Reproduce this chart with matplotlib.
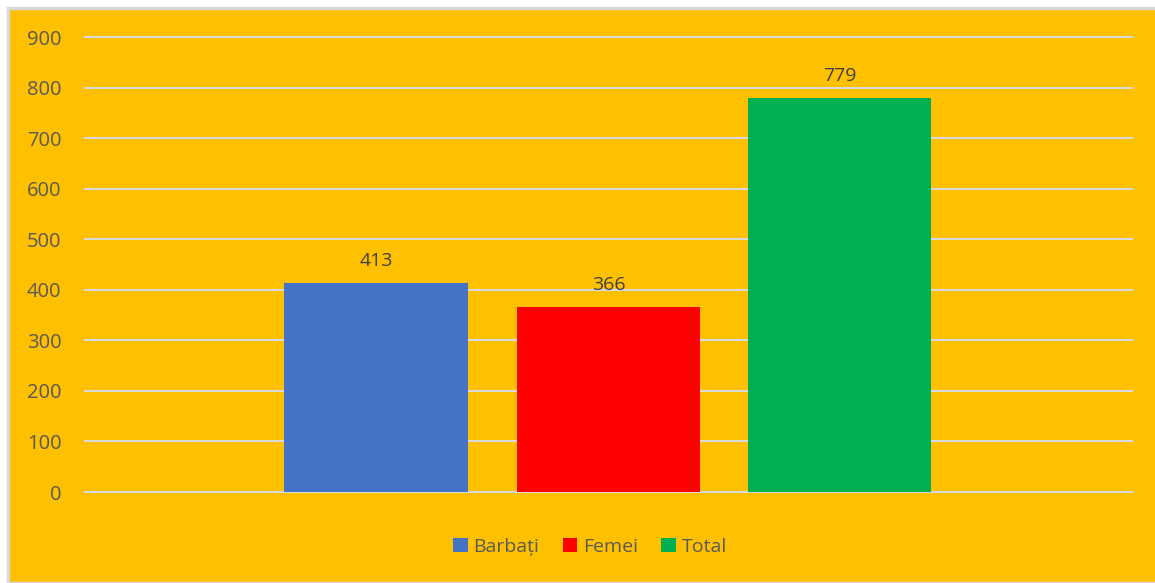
import matplotlib
matplotlib.use("Agg")
import matplotlib.pyplot as plt
from matplotlib.patches import Rectangle, Patch

series = ["Barbați", "Femei", "Total"]
values = [413, 366, 779]
colors = ["#4472C4", "#FF0000", "#00B050"]
yticks = [0, 100, 200, 300, 400, 500, 600, 700, 800, 900]

plt.rcParams["font.family"] = ["Open Sans", "DejaVu Sans"]
W, H = 1155, 583
fig = plt.figure(figsize=(W / 100, H / 100), dpi=100, facecolor="white")

# yellow chart area with light border
fig.patches.append(Rectangle((8 / W, 0), 1, 1 - 8 / H, transform=fig.transFigure,
                             facecolor="#FFC000", edgecolor="#D9D9D9", linewidth=2.5, zorder=-5))

ax = fig.add_axes([85 / W, 1 - 492 / H, (1132 - 85) / W, (492 - 37) / H])
ax.set_facecolor("none")

width = 0.175
offsets = [-0.222, 0.0, 0.221]
for name, v, c, off in zip(series, values, colors, offsets):
    ax.bar(off, v, width=width, color=c, zorder=3, label=name)
    ax.text(off, v + 26, str(v), ha="center", va="bottom", fontsize=14, color="#404040")

ax.set_xlim(-0.5, 0.5)
ax.set_ylim(0, 900)
ax.set_yticks(yticks)
ax.set_xticks([])
ax.grid(axis="y", color="#D9D9D9", linewidth=1.5, zorder=0)
for gl in ax.get_ygridlines():
    gl.set_clip_on(False)
for s in ax.spines.values():
    s.set_visible(False)
ax.tick_params(axis="y", length=0, pad=17, labelsize=14.5, labelcolor="#595959")

handles = [Patch(facecolor=c, label=n) for n, c in zip(series, colors)]
fig.legend(handles=handles, loc="center", bbox_to_anchor=(590 / W, 1 - 547 / H), ncol=3,
           frameon=False, fontsize=14, labelcolor="#595959", handlelength=0.75,
           handleheight=0.75, handletextpad=0.3, columnspacing=1.2)

fig.savefig("out.png", dpi=100, facecolor="white")
